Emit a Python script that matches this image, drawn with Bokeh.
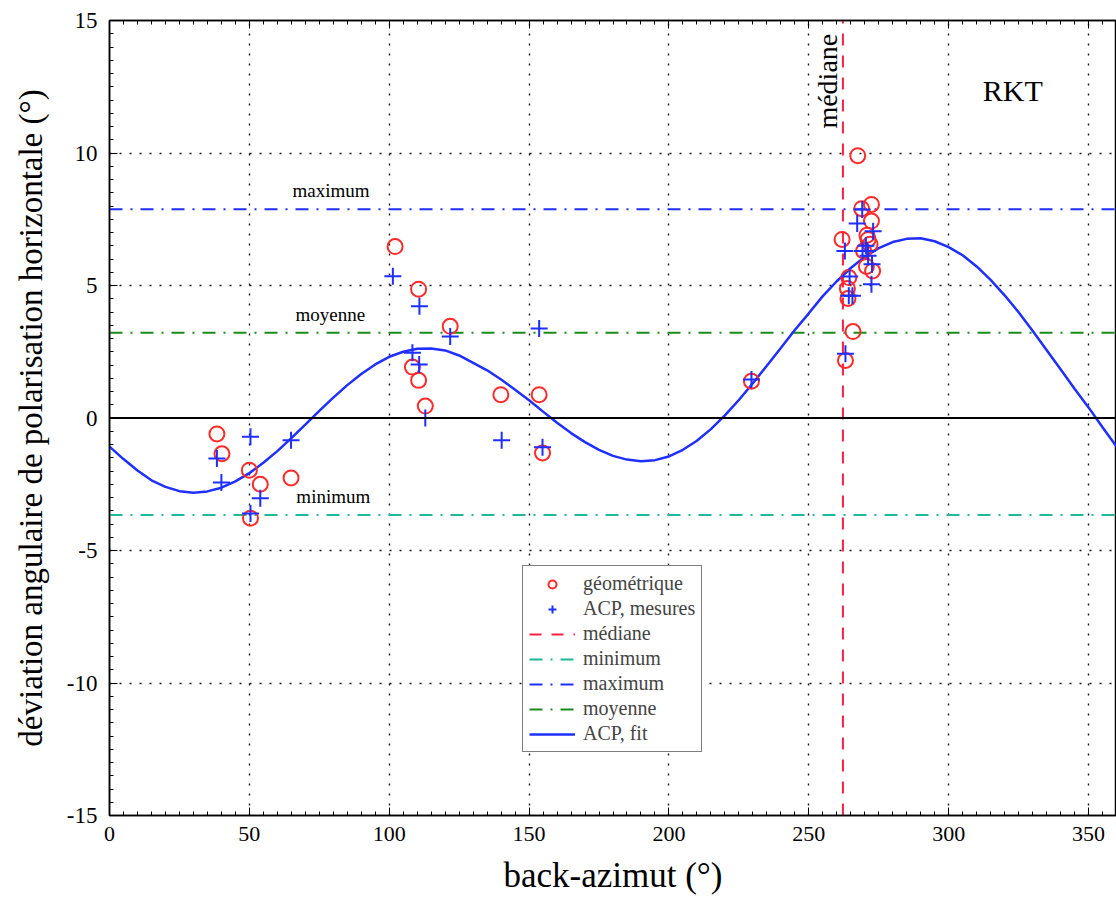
import math
from bokeh.plotting import figure
from bokeh.models import (Range1d, LinearAxis, FixedTicker, Span, Legend, LegendItem, Label,
                          PrintfTickFormatter, CustomJSTickFormatter)
from bokeh.embed import file_html
from bokeh.resources import INLINE

# ---- data ----
GEO_AZ = [38.4, 40.2, 50.0, 53.9, 64.9, 50.4,
          102.1, 110.5, 121.8, 108.3, 110.5, 112.9, 139.9, 153.6, 154.8,
          229.5, 263.1, 265.8, 261.9, 264.3, 263.8, 264.0,
          267.5, 272.4, 268.9, 272.4, 271.2, 271.9, 269.6, 270.6, 272.8, 270.8]
GEO_DEV = [-0.6, -1.35, -1.97, -2.5, -2.26, -3.78,
           6.47, 4.86, 3.46, 1.92, 1.42, 0.45, 0.88, 0.88, -1.32,
           1.39, 2.17, 3.26, 6.74, 5.3, 4.89, 4.51,
           9.9, 8.06, 7.9, 7.43, 6.74, 6.56, 6.3, 5.72, 5.55, 6.9]

ACP_AZ = [38.4, 40.0, 50.4, 53.9, 64.9, 50.4,
          101.3, 110.8, 121.8, 108.3, 110.7, 112.9, 140.2, 153.6, 154.8,
          229.5, 263.1, 262.9, 264.6, 264.3, 265.6,
          269.1, 267.3, 273.0, 270.4, 269.2, 271.2, 272.6, 272.4, 271.0]
ACP_DEV = [-1.53, -2.43, -0.71, -3.03, -0.84, -3.6,
           5.35, 4.22, 3.08, 2.46, 2.02, 0.0, -0.84, 3.38, -1.1,
           1.45, 2.42, 6.3, 5.34, 4.61, 4.61,
           7.87, 7.34, 7.05, 6.5, 6.3, 6.12, 5.8, 5.05, 6.3]

FIT_AZ = list(range(0, 361, 5))
FIT_DEV = [-1.08, -1.55, -1.98, -2.35, -2.60, -2.76, -2.82, -2.77, -2.63, -2.39,
           -2.08, -1.69, -1.25, -0.76, -0.25, 0.27, 0.77, 1.24, 1.66, 2.02,
           2.31, 2.50, 2.61, 2.62, 2.55, 2.36, 2.08, 1.80, 1.45, 1.07,
           0.67, 0.24, -0.18, -0.57, -0.91, -1.20, -1.43, -1.57, -1.63, -1.59,
           -1.45, -1.20, -0.86, -0.42, 0.10, 0.68, 1.31, 1.97, 2.64, 3.32,
           3.95, 4.60, 5.16, 5.66, 6.08, 6.41, 6.64, 6.76, 6.78, 6.67,
           6.45, 6.14, 5.72, 5.21, 4.63, 3.99, 3.29, 2.57, 1.84, 1.10,
           0.40, -0.35, -1.08]

MEDIANE = 262.2
MINIMUM = -3.66
MAXIMUM = 7.88
MOYENNE = 3.22

X_MIN, X_MAX = 0, 360
Y_MIN, Y_MAX = -15, 15
X_TICKS = [0, 50, 100, 150, 200, 250, 300, 350]
Y_TICKS = [-15, -10, -5, 0, 5, 10, 15]
GRID_X = [50, 100, 150, 200, 250, 300, 350]
GRID_Y = [-10, -5, 5, 10]

SERIF = "Liberation Serif"
RED = "#ff2a2a"
BLUE = "#1f2fff"
TEAL = "#1fb89a"
GREEN = "#1a8c1a"
MEDRED = "#ff2045"

p = figure(width=1116, height=897, output_backend="svg", toolbar_location=None,
           x_range=Range1d(X_MIN, X_MAX), y_range=Range1d(Y_MIN, Y_MAX),
           min_border_left=109, min_border_right=0, min_border_top=20, min_border_bottom=82)
p.background_fill_color = "white"
p.border_fill_color = "white"
p.outline_line_color = "black"
p.outline_line_width = 1.5

# grid
p.xgrid.ticker = FixedTicker(ticks=GRID_X)
p.ygrid.ticker = FixedTicker(ticks=GRID_Y)
for g in (p.xgrid, p.ygrid):
    g.grid_line_color = "black"
    g.grid_line_dash = "2 8"
    g.grid_line_width = 1.4
    g.grid_line_alpha = 0.9

# axes
p.xaxis.ticker = FixedTicker(ticks=X_TICKS, minor_ticks=list(range(0, 361, 5)))
p.yaxis.ticker = FixedTicker(ticks=Y_TICKS, minor_ticks=[v / 2 for v in range(-30, 31)])
p.xaxis.formatter = PrintfTickFormatter(format="%d")
p.yaxis.formatter = PrintfTickFormatter(format="%d")
p.xaxis.axis_label = "back-azimut (°)"
p.yaxis.axis_label = "déviation angulaire de polarisation horizontale (°)"
for ax in (p.xaxis[0], p.yaxis[0]):
    ax.axis_line_color = "black"
    ax.axis_line_width = 1.5
    ax.major_tick_in = 8
    ax.major_tick_out = 0
    ax.minor_tick_in = 4
    ax.minor_tick_out = 0
    ax.major_tick_line_color = "black"
    ax.minor_tick_line_color = "black"
    ax.major_label_text_font = SERIF
    ax.major_label_text_color = "black"
    ax.axis_label_text_font = SERIF
    ax.axis_label_text_font_style = "normal"
    ax.axis_label_text_color = "black"
p.xaxis.major_label_text_font_size = "22px"
p.yaxis.major_label_text_font_size = "23px"
p.xaxis.axis_label_text_font_size = "35px"
p.yaxis.axis_label_text_font_size = "33px"
p.xaxis.major_label_standoff = 11
p.xaxis.axis_label_standoff = 12
p.yaxis.major_label_standoff = 12
p.yaxis.axis_label_standoff = 15

top = LinearAxis(ticker=FixedTicker(ticks=X_TICKS, minor_ticks=list(range(0, 361, 5))),
                 formatter=CustomJSTickFormatter(code="return ''"),
                 major_tick_in=8, major_tick_out=0, minor_tick_in=4, minor_tick_out=0,
                 major_label_standoff=0, axis_line_width=1.5)
p.add_layout(top, "above")

# zero line
p.add_layout(Span(location=0, dimension="width", line_color="black", line_width=2))

# reference lines
r_med = p.line([MEDIANE, MEDIANE], [Y_MIN, Y_MAX], line_color=MEDRED, line_width=2, line_dash="12 10")
r_min = p.line([X_MIN, X_MAX], [MINIMUM, MINIMUM], line_color=TEAL, line_width=2, line_dash="13 8 2 8")
r_max = p.line([X_MIN, X_MAX], [MAXIMUM, MAXIMUM], line_color=BLUE, line_width=2, line_dash="13 8 2 8")
r_moy = p.line([X_MIN, X_MAX], [MOYENNE, MOYENNE], line_color=GREEN, line_width=2, line_dash="13 8 2 8")

# fit
r_fit = p.line(FIT_AZ, FIT_DEV, line_color=BLUE, line_width=2.5)

# points
r_geo = p.scatter(GEO_AZ, GEO_DEV, marker="circle", size=15, fill_color=None,
                  line_color=RED, line_width=2)
r_acp = p.scatter(ACP_AZ, ACP_DEV, marker="cross", size=17, line_color=BLUE, line_width=2)

# text annotations
def lab(x, y, t, size="19px", **kw):
    p.add_layout(Label(x=x, y=y, text=t, text_font=SERIF, text_font_size=size,
                       text_color="black", **kw))

lab(65.4, MAXIMUM + 0.3, "maximum")
lab(66.5, MOYENNE + 0.3, "moyenne")
lab(66.8, MINIMUM + 0.3, "minimum")
lab(256.8, 14.5, "médiane", size="28px", angle=math.pi / 2, text_align="right",
    text_baseline="middle")
lab(322.9, 12.37, "RKT", size="30px", text_align="center", text_baseline="middle")

legend = Legend(items=[
    LegendItem(label="géométrique", renderers=[r_geo]),
    LegendItem(label="ACP, mesures", renderers=[r_acp]),
    LegendItem(label="médiane", renderers=[r_med]),
    LegendItem(label="minimum", renderers=[r_min]),
    LegendItem(label="maximum", renderers=[r_max]),
    LegendItem(label="moyenne", renderers=[r_moy]),
    LegendItem(label="ACP, fit", renderers=[r_fit]),
], location=(413, 63))
legend.label_text_font = SERIF
legend.label_text_font_size = "20px"
legend.label_height = 20
legend.glyph_height = 20
legend.glyph_width = 46
legend.spacing = 2
legend.padding = 6
legend.margin = 0
legend.label_standoff = 8
legend.border_line_color = "black"
legend.border_line_width = 1.5
legend.background_fill_alpha = 1.0
p.add_layout(legend, "center")

open("out.html", "w").write(file_html(p, INLINE))
